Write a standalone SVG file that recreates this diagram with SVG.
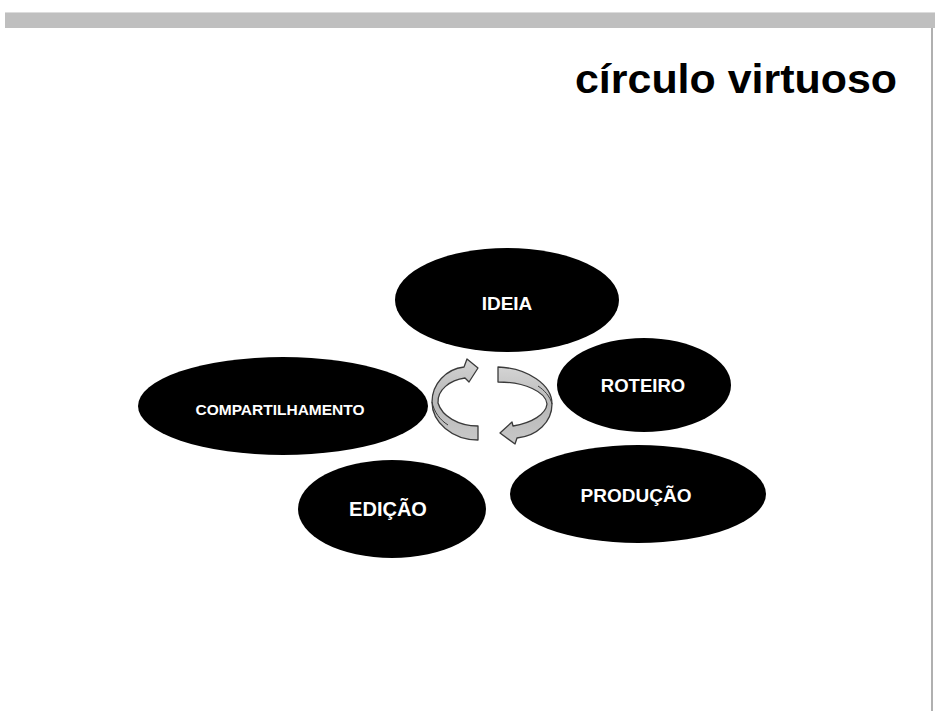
<svg xmlns="http://www.w3.org/2000/svg" width="935" height="711" viewBox="0 0 935 711">
  <defs>
    <linearGradient id="arrowGrad" x1="0" y1="0" x2="0" y2="1">
      <stop offset="0" stop-color="#d4d4d4"/>
      <stop offset="0.5" stop-color="#b8b8b8"/>
      <stop offset="1" stop-color="#c8c8c8"/>
    </linearGradient>
  </defs>
  <style>
    .node { fill: #000000; }
    .label { fill: #ffffff; font-family: "Liberation Sans", Arial, sans-serif; font-weight: bold; text-anchor: middle; }
    .arrow { fill: url(#arrowGrad); stroke: #3a3a3a; stroke-width: 1.3; stroke-linejoin: round; }
    .twist { fill: none; stroke: #3a3a3a; stroke-width: 1; }
  </style>
  <rect x="0" y="0" width="935" height="711" fill="#ffffff"/>
  <rect x="5" y="12" width="930" height="16" fill="#bfbfbf"/>
  <line x1="5" y1="12.5" x2="935" y2="12.5" stroke="#dcdcdc" stroke-width="1"/>
  <line x1="932" y1="28" x2="932" y2="711" stroke="#b0b0b0" stroke-width="2"/>

  <text id="title" x="575" y="93" font-family="Liberation Sans, Arial, sans-serif" font-weight="bold" font-size="41" textLength="322" lengthAdjust="spacingAndGlyphs" fill="#000000">círculo virtuoso</text>

  <g id="node-ideia">
    <ellipse class="node" cx="507" cy="300" rx="112" ry="52"/>
    <text class="label" x="507" y="310" font-size="19">IDEIA</text>
  </g>
  <g id="node-roteiro">
    <ellipse class="node" cx="644" cy="385" rx="87" ry="47"/>
    <text class="label" x="643" y="392" font-size="18.5">ROTEIRO</text>
  </g>
  <g id="node-producao">
    <ellipse class="node" cx="638" cy="494" rx="128" ry="49"/>
    <text class="label" x="636" y="502" font-size="19">PRODUÇÃO</text>
  </g>
  <g id="node-edicao">
    <ellipse class="node" cx="392" cy="509" rx="94" ry="49"/>
    <text class="label" x="388" y="516" font-size="20">EDIÇÃO</text>
  </g>
  <g id="node-compartilhamento">
    <ellipse class="node" cx="283" cy="406" rx="145" ry="49"/>
    <text class="label" x="280" y="415" font-size="15.5">COMPARTILHAMENTO</text>
  </g>

  <g id="connectors">
    <path class="arrow" d="M 464 367 C 446 369 432 384 432 402 C 432 422 452 440 478 440 L 478 426 C 458 426 442 416 438 403 C 437 390 450 380 465 378 L 469 382 L 478 368 L 467 359 Z"/>
    <path class="twist" d="M 432 402 C 434 412 440 420 448 425"/>
    <path class="arrow" d="M 498 367 C 528 368 552 385 552 404 C 552 422 537 436 517 438 L 515 444 L 500 433 L 512 422 L 513 426 C 532 423 546 414 547 404 C 546 392 525 382 498 382 Z"/>
    <path class="twist" d="M 552 404 C 550 396 544 390 538 386"/>
  </g>
</svg>
